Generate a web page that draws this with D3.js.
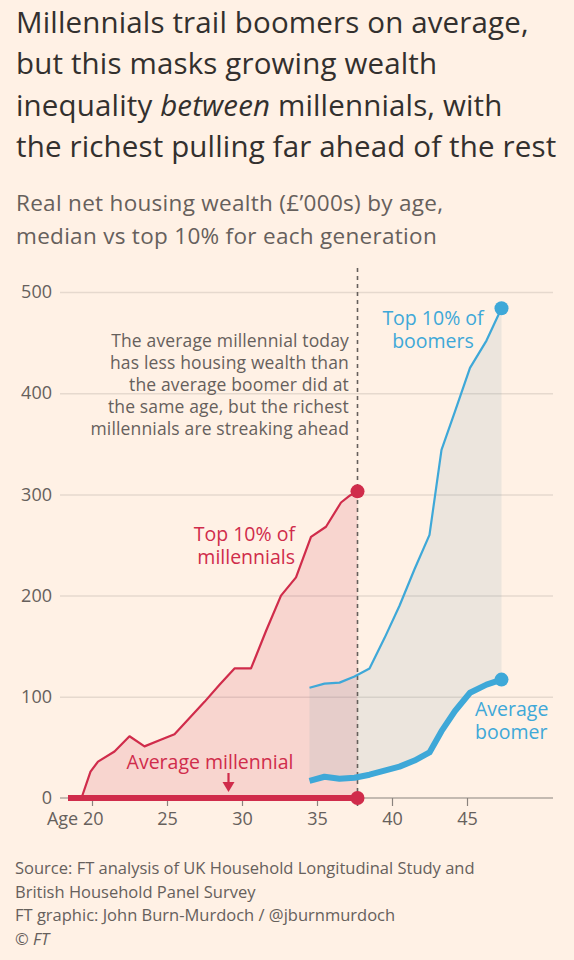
<!DOCTYPE html>
<html><head><meta charset="utf-8">
<script src="https://cdn.jsdelivr.net/npm/d3@7"></script>
<style>
body{margin:0;background:#fff1e5;}
svg{display:block;font-family:"Open Sans", sans-serif;}
</style></head><body>
<svg id="c" width="574" height="960"></svg>
<script>
// ---- data ----
const millAges = [19.3, 19.9, 20.4, 21.5, 22.5, 23.5, 24.5, 25.5, 26.5, 27.5, 28.5, 29.5, 30.6, 31.6, 32.6, 33.6, 34.6, 35.6, 36.6, 37.2, 37.7];
const millTop  = [0, 26, 36, 46, 61, 51, 57, 63, 79, 95, 112, 128, 128, 165, 200, 218, 258, 268, 292, 299, 303];
const millAvgAges = [18.4, 20, 25, 30, 35, 37.7];
const millAvg     = [0, 0, 0, 0, 0, 0];
const boomAges = [34.5, 35.5, 36.5, 37.5, 38.5, 39.5, 40.5, 41.5, 42.5, 43.3, 44.2, 45.2, 46.3, 47.3];
const boomTop  = [109, 113, 114, 120, 128, 158, 190, 226, 260, 344, 382, 425, 452, 484];
const boomAvg  = [17, 21, 19, 20, 23, 27, 31, 37, 45, 66, 86, 104, 112, 117];
const yTicks = [0, 100, 200, 300, 400, 500];
const xTicks = [20, 25, 30, 35, 40, 45];
const todayAge = 37.7;

const titleLines = ["Millennials trail boomers on average,", "but this masks growing wealth", null, "the richest pulling far ahead of the rest"];
const subtitleLines = ["Real net housing wealth (£’000s) by age,", "median vs top 10% for each generation"];
const noteLines = ["The average millennial today", "has less housing wealth than", "the average boomer did at", "the same age, but the richest", "millennials are streaking ahead"];
const sourceLines = ["Source: FT analysis of UK Household Longitudinal Study and", "British Household Panel Survey", "FT graphic: John Burn-Murdoch / @jburnmurdoch"];

// ---- style ----
const RED = "#d02c4b", BLUE = "#3ea8d8", GREY = "#66605c", DARK = "#33302e";
const FONT = "'Open Sans', sans-serif";
const svg = d3.select("#c");
const x = d3.scaleLinear().domain([20, 45]).range([92, 467]);
const y = d3.scaleLinear().domain([0, 500]).range([798, 292]);
const L = 60, R = 553;

// multi-line text helper (one text element, tspans per line)
function multiline(lines, xx, by, lh, attrs) {
  const t = svg.append("text").attr("x", xx).attr("y", by);
  Object.entries(attrs).forEach(([k, v]) => t.attr(k, v));
  lines.forEach((s, i) => t.append("tspan").attr("x", xx).attr("dy", i === 0 ? 0 : lh).text(s));
  return t;
}

// title
const title = svg.append("text").attr("fill", DARK).attr("font-size", 29.5).attr("letter-spacing", 0.15).attr("x", 16).attr("y", 33);
titleLines.forEach((s, i) => {
  const dy = i === 0 ? 0 : [0, 41, 42, 41][i];
  if (s !== null) title.append("tspan").attr("x", 16).attr("dy", dy).text(s);
  else {
    title.append("tspan").attr("x", 16).attr("dy", dy).text("inequality ");
    title.append("tspan").attr("font-style", "italic").text("between");
    title.append("tspan").text(" millennials, with");
  }
});
multiline(subtitleLines, 16, 211, 33, {fill: GREY, "font-size": 22.5, "letter-spacing": 0.3});

// grid + y axis
const yAxis = svg.append("g").attr("transform", `translate(${R},0)`)
  .call(d3.axisLeft(y).tickValues(yTicks).tickSize(R - L).tickPadding(8));
yAxis.select(".domain").remove();
yAxis.selectAll(".tick line").attr("stroke", "#e6d9ce").attr("stroke-width", 1.5)
  .filter(d => d === 0).remove();
yAxis.selectAll(".tick text").attr("fill", GREY).attr("font-size", 18).attr("font-family", FONT);

// areas
svg.append("path").datum(millAges.map((a, i) => [a, millTop[i]]))
  .attr("fill", RED).attr("fill-opacity", 0.14)
  .attr("d", d3.area().x(d => x(d[0])).y0(y(0)).y1(d => y(d[1])));
svg.append("path").datum(boomAges.map((a, i) => [a, boomAvg[i], boomTop[i]]))
  .attr("fill", "#7fa3b0").attr("fill-opacity", 0.15)
  .attr("d", d3.area().x(d => x(d[0])).y0(d => y(d[1])).y1(d => y(d[2])));

// x axis
svg.append("line").attr("x1", L).attr("x2", R).attr("y1", y(0)).attr("y2", y(0))
  .attr("stroke", "#8a837e").attr("stroke-width", 1.2);
const xAxis = svg.append("g").attr("transform", `translate(0,${y(0)})`)
  .call(d3.axisBottom(x).tickValues(xTicks).tickSize(8).tickPadding(6).tickFormat(d => d === 20 ? "Age 20" : d));
xAxis.select(".domain").remove();
xAxis.selectAll(".tick line").attr("stroke", "#8a837e").attr("stroke-width", 1.2);
xAxis.selectAll(".tick text").attr("fill", GREY).attr("font-size", 18).attr("font-family", FONT);
xAxis.selectAll(".tick text").filter(d => d === 20).attr("text-anchor", "end").attr("x", 11);

// today line
svg.append("line").attr("x1", x(todayAge)).attr("x2", x(todayAge)).attr("y1", 268).attr("y2", 806)
  .attr("stroke", GREY).attr("stroke-width", 1.6).attr("stroke-dasharray", "4,4");

// lines
const line = d3.line().x(d => x(d[0])).y(d => y(d[1]));
svg.append("path").datum(millAvgAges.map((a, i) => [a, millAvg[i]]))
  .attr("fill", "none").attr("stroke", RED).attr("stroke-width", 6).attr("d", line);
svg.append("path").datum(millAges.map((a, i) => [a, millTop[i]]))
  .attr("fill", "none").attr("stroke", RED).attr("stroke-width", 2.2).attr("stroke-linejoin", "round").attr("d", line);
svg.append("path").datum(boomAges.map((a, i) => [a, boomTop[i]]))
  .attr("fill", "none").attr("stroke", BLUE).attr("stroke-width", 2.2).attr("stroke-linejoin", "round").attr("d", line);
svg.append("path").datum(boomAges.map((a, i) => [a, boomAvg[i]]))
  .attr("fill", "none").attr("stroke", BLUE).attr("stroke-width", 6).attr("stroke-linejoin", "round").attr("d", line);

// end dots
const lastM = millTop.length - 1, lastB = boomAges.length - 1;
[[millAges[lastM], millTop[lastM], RED], [millAvgAges[millAvgAges.length - 1], millAvg[millAvg.length - 1], RED],
 [boomAges[lastB], boomTop[lastB], BLUE], [boomAges[lastB], boomAvg[lastB], BLUE]].forEach(d => {
  svg.append("circle").attr("cx", x(d[0])).attr("cy", y(d[1])).attr("r", 7).attr("fill", d[2]);
});

// annotations
multiline(noteLines, 349, 347, 22, {fill: GREY, "font-size": 17.5, "letter-spacing": 0.15, "text-anchor": "end"});

const lab = (lines, xx, by, anchor, color) =>
  multiline(lines, xx, by, 22.5, {fill: color, "font-size": 19.5, "font-weight": 500, "text-anchor": anchor});
lab(["Top 10% of", "boomers"], 433, 325, "middle", BLUE);
lab(["Top 10% of", "millennials"], 295, 541, "end", RED);
lab(["Average", "boomer"], 475, 716, "start", BLUE);
lab(["Average millennial"], 210, 769, "middle", RED);

// arrow
const ax = x(29.1);
svg.append("line").attr("x1", ax).attr("x2", ax).attr("y1", 773).attr("y2", 784).attr("stroke", RED).attr("stroke-width", 2.2);
svg.append("path").attr("fill", RED).attr("d", `M${ax - 6},${782}L${ax + 6},${782}L${ax},${792}Z`);

// source
const src = multiline(sourceLines, 15, 874, 23.7, {fill: GREY, "font-size": 16.5});
src.append("tspan").attr("x", 15).attr("dy", 23.7).text("© ");
src.append("tspan").attr("font-style", "italic").text("FT");
</script>
</body></html>
